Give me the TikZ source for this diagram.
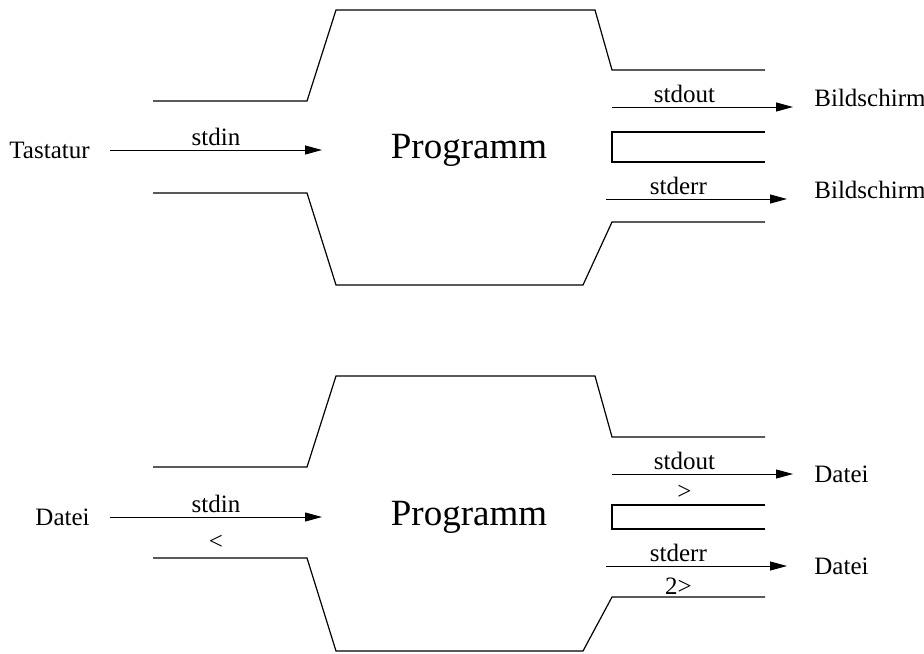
\documentclass[tikz,border=0pt]{standalone}
\usepackage{fontspec}
\setmainfont{Liberation Serif}
\usetikzlibrary{positioning, arrows.meta}

\begin{document}
\begin{tikzpicture}[x=0.5pt, y=-0.5pt,
        wall/.style={line width=0.6pt},
        arrow/.style={-{Triangle[length=8.5pt, width=4.5pt]}, line width=0.5pt},
        txt/.style={font=\fontsize{12.5}{15}\selectfont, inner sep=2pt},
        big/.style={font=\fontsize{18.5}{22}\selectfont}
    ]
        \useasboundingbox (0,0) rectangle (924,653);

        % Upper program
        \node[big] (prog1) at (469,150) {Programm};
        \draw[wall] (153,101) -- (307,101) -- (336,10) -- (595,10) -- (612,70) -- (765,70);
        \draw[wall] (153,193) -- (307,193) -- (336,285) -- (583,285) -- (612,222) -- (765,222);
        \draw[wall] (765,132) -- (612,132) -- (612,162) -- (765,162);

        % Keyboard and screen
        \node[txt, anchor=east, inner xsep=10pt] (tast) at (110,150) {Tastatur};
        \coordinate (in1) at (322,150);
        \coordinate (out1) at (612,107);
        \coordinate (scr1) at (793,107);
        \coordinate (err1) at (606,199);
        \coordinate (scr2) at (787,199);
        \node[txt, anchor=base west, inner sep=0pt] (bild1) at (814,106) {Bildschirm};
        \node[txt, anchor=base west, inner sep=0pt] (bild2) at (814,198) {Bildschirm};

        \draw[arrow] (tast.east) -- (in1) node[midway, above, txt] {stdin};
        \draw[arrow] (out1) -- (scr1) node[pos=0.4, above, txt] {stdout};
        \draw[arrow] (err1) -- (scr2) node[pos=0.4, above, txt] {stderr};

        % Lower program
        \node[big] (prog2) at (469,517) {Programm};
        \draw[wall] (153,467) -- (307,467) -- (336,376) -- (595,376) -- (612,437) -- (765,437);
        \draw[wall] (153,558) -- (307,558) -- (336,651) -- (583,651) -- (612,597) -- (765,597);
        \draw[wall] (765,505) -- (612,505) -- (612,529) -- (765,529);

        % Redirection to files
        \node[txt, anchor=east, inner xsep=10pt] (datIn) at (110,517) {Datei};
        \coordinate (in2) at (322,517);
        \coordinate (out2) at (612,474);
        \coordinate (err2) at (606,566);
        \node[txt, anchor=west, inner xsep=10.5pt] (datOut) at (793,474) {Datei};
        \node[txt, anchor=west, inner xsep=13.5pt] (datErr) at (787,566) {Datei};

        \draw[arrow] (datIn.east) -- (in2) node[midway, above, txt] {stdin} node[midway, below=7pt, txt] {<};
        \draw[arrow] (out2) -- (datOut.west) node[pos=0.4, above, txt] {stdout} node[pos=0.4, below=3.5pt, txt] {>};
        \draw[arrow] (err2) -- (datErr.west) node[pos=0.4, above, txt] {stderr} node[pos=0.4, below=3.5pt, txt] {2>};
    \end{tikzpicture}
\end{document}
